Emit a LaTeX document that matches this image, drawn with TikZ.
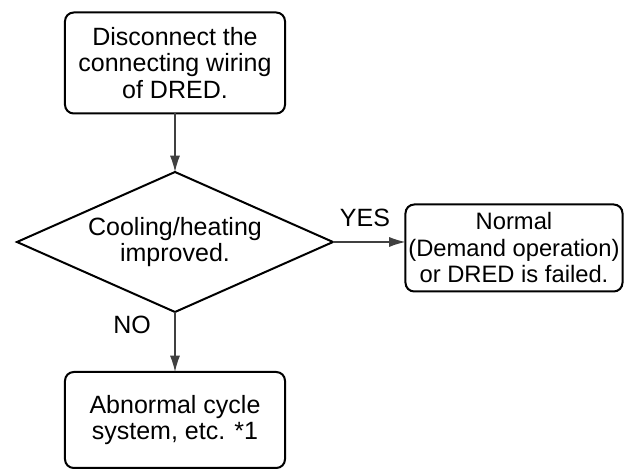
\documentclass[tikz,border=0pt]{standalone}
\usepackage{fontspec}
\setmainfont{Liberation Sans}
\usetikzlibrary{arrows.meta,shapes.geometric}

\begin{document}
\begin{tikzpicture}[x=0.4pt, y=-0.4pt, >={Latex[length=6.5pt,width=4pt]},
    every node/.style={font=\fontsize{10}{10.6}\selectfont},
    box/.style={draw, line width=0.8pt, rounded corners=3.5pt, align=center, inner sep=0pt, outer sep=0pt},
    link/.style={->, line width=0.5pt, draw=black!75}]
    \useasboundingbox (0,0) rectangle (628,471);

    % steps of the check
    \node[box, minimum width=88pt, minimum height=40.4pt] (disc) at (175,63) {Disconnect the\\connecting wiring\\of DRED.};
    \node[draw, diamond, aspect=2.26, line width=0.8pt, minimum width=126.4pt, minimum height=56pt, inner sep=0pt, outer sep=0pt, align=center] (check) at (175,242) {Cooling/heating\\improved.};
    \node[box, minimum width=86.8pt, minimum height=34.8pt, font=\fontsize{9.5}{10.6}\selectfont] (normal) at (514,248) {Normal\\(Demand operation)\\or DRED is failed.};
    \node[box, minimum width=88pt, minimum height=38.4pt] (abnormal) at (175,420) {Abnormal cycle\\system, etc. *1};

    % answers
    \node (yes) at (365,218) {YES};
    \node (no) at (132,325) {NO};

    % arrows between the steps
    \draw[link] (disc.south) -- (check.north);
    \draw[link] (check.east) -- (check.east -| normal.west);
    \draw[link] (check.south) -- (abnormal.north);
\end{tikzpicture}
\end{document}
